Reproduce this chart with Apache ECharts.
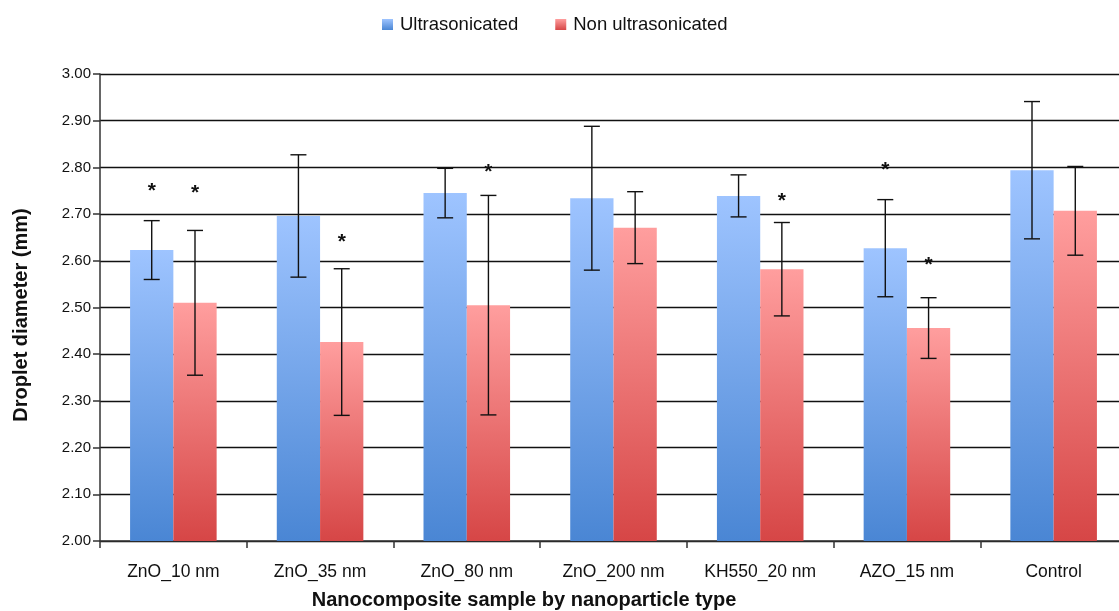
<!DOCTYPE html>
<html><head><meta charset="utf-8">
<script src="https://cdn.jsdelivr.net/npm/echarts@6/dist/echarts.min.js"></script>
<style>html,body{margin:0;padding:0;background:#fff;overflow:hidden}#c{width:1119px;height:611px}</style>
</head><body><div id="c"></div>
<script>
const categories = ['ZnO_10 nm','ZnO_35 nm','ZnO_80 nm','ZnO_200 nm','KH550_20 nm','AZO_15 nm','Control'];
const ultraMean = [2.623, 2.696, 2.745, 2.734, 2.739, 2.627, 2.794];
const ultraErr  = [0.063, 0.131, 0.053, 0.154, 0.045, 0.104, 0.147];
const nonMean   = [2.510, 2.426, 2.505, 2.671, 2.582, 2.456, 2.707];
const nonErr    = [0.155, 0.157, 0.235, 0.077, 0.100, 0.065, 0.095];
// significance star positions (null = no star)
const ultraStar = [2.760, null, null, null, null, 2.805, null];
const nonStar   = [2.756, 2.651, 2.801, null, 2.739, 2.602, null];
const yTicks = [2.0, 3.0, 0.1];

const chart = echarts.init(document.getElementById('c'));
const FONT = 'Liberation Sans, Arial, sans-serif';
const BAR_FRAC = 0.295;

function grad(top, bottom){
  return new echarts.graphic.LinearGradient(0,0,0,1,[{offset:0,color:top},{offset:1,color:bottom}]);
}
const blue = grad('#9EC4FF', '#4A86D4');
const red = grad('#FF9E9E', '#D64646');

function errSeries(means, errs, sign){
  return {
    type:'custom', silent:true, z:5,
    data: means.map((m,i)=>[i, m, errs[i]]),
    renderItem(params, api){
      const i = api.value(0), m = api.value(1), e = api.value(2);
      const bw = api.size([1,0])[0];
      const off = sign * bw * BAR_FRAC / 2;
      const top = api.coord([i, m + e]);
      const bot = api.coord([i, m - e]);
      const x = top[0] + off;
      const cap = 8;
      const st = {stroke:'#111', lineWidth:1.4};
      return {type:'group', children:[
        {type:'line', shape:{x1:x,y1:top[1],x2:x,y2:bot[1]}, style:st},
        {type:'line', shape:{x1:x-cap,y1:top[1],x2:x+cap,y2:top[1]}, style:st},
        {type:'line', shape:{x1:x-cap,y1:bot[1],x2:x+cap,y2:bot[1]}, style:st}
      ]};
    }
  };
}
function starSeries(stars, sign){
  return {
    type:'custom', silent:true, z:6,
    data: stars.map((s,i)=> s==null ? null : [i, s]).filter(d=>d),
    renderItem(params, api){
      const i = api.value(0), v = api.value(1);
      const bw = api.size([1,0])[0];
      const p = api.coord([i, v]);
      return {type:'text', style:{text:'*', x:p[0] + sign*bw*BAR_FRAC/2, y:p[1]+5,
        font:'bold 21px ' + FONT, fill:'#111', align:'center', verticalAlign:'middle'}};
    }
  };
}

chart.setOption({
  animation:false,
  backgroundColor:'#fff',
  legend:{
    top:10, left:377, itemWidth:11, itemHeight:11, itemGap:37, icon:'rect',
    textStyle:{fontFamily:FONT, fontSize:18.5, color:'#111', padding:[0,0,0,2]},
    data:['Ultrasonicated','Non ultrasonicated']
  },
  grid:{left:100, right:-8, top:74, bottom:70, containLabel:false, outerBoundsMode:'none'},
  xAxis:{
    type:'category', data:categories, boundaryGap:true,
    axisLine:{lineStyle:{color:'#333', width:1.5}},
    axisTick:{show:true, length:7, lineStyle:{color:'#333', width:1.5}},
    axisLabel:{fontFamily:FONT, fontSize:17.5, color:'#111', margin:22}
  },
  yAxis:{
    type:'value', min:yTicks[0], max:yTicks[1], interval:yTicks[2],
    axisLine:{show:true, lineStyle:{color:'#333', width:1.5}},
    axisTick:{show:true, length:7, lineStyle:{color:'#333', width:1.5}},
    axisLabel:{fontFamily:FONT, fontSize:15, color:'#111', margin:9, formatter:v=>v.toFixed(2)},
    splitLine:{lineStyle:{color:'#111', width:1.4}}
  },
  graphic:[
    {type:'text', x:0, y:0, style:{text:'Nanocomposite sample by nanoparticle type', x:524, y:600,
      font:'bold 20px ' + FONT, fill:'#111', align:'center', verticalAlign:'middle'}},
    {type:'text', x:21, y:315, rotation:Math.PI/2, style:{text:'Droplet diameter (mm)', x:0, y:0,
      font:'bold 20px ' + FONT, fill:'#111', align:'center', verticalAlign:'middle'}}
  ],
  series:[
    {name:'Ultrasonicated', type:'bar', data:ultraMean, barWidth:(BAR_FRAC*100)+'%', barGap:'0%', itemStyle:{color:blue}, z:2},
    {name:'Non ultrasonicated', type:'bar', data:nonMean, barWidth:(BAR_FRAC*100)+'%', barGap:'0%', itemStyle:{color:red}, z:2},
    errSeries(ultraMean, ultraErr, -1),
    errSeries(nonMean, nonErr, 1),
    starSeries(ultraStar, -1),
    starSeries(nonStar, 1)
  ]
});
</script></body></html>
